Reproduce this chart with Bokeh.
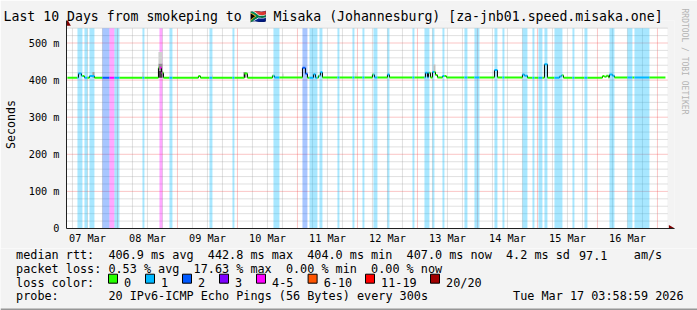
from datetime import datetime, timedelta
from math import pi
from bokeh.plotting import figure
from bokeh.models import (Range1d, FixedTicker, Title, DatetimeTickFormatter,
                          ColumnDataSource)
from bokeh.core.properties import value
from bokeh.embed import file_html
from bokeh.resources import INLINE

# ---------------- data ----------------
BASE = datetime(2026, 3, 7, 0, 0, 0)
GRAPH_START = datetime(2026, 3, 7, 3, 58, 59)
GRAPH_END = datetime(2026, 3, 17, 3, 58, 59)
Y_MAX = 540

# median rtt (step series): hours after 07 Mar 00:00, value in ms
median_hours = [3.98, 8.4, 9.6, 10.8, 12.8, 14.8, 40.4, 41.6, 42.4, 56.4, 57.2,
                74.8, 76.0, 86.0, 86.8, 98.0, 99.2, 100.0, 102.4, 103.2, 104.4,
                105.2, 106.0, 126.0, 126.8, 132.0, 132.8, 147.2, 148.0, 148.4,
                149.2, 150.0, 151.2, 152.0, 154.0, 155.6, 174.8, 176.0, 186.0,
                186.8, 188.0, 194.8, 196.0, 200.8, 201.6, 202.4, 218.0, 218.8,
                219.6, 220.4, 220.8, 222.0, 222.8, 243.2]
median_ms = [406, 418, 411, 406, 411, 406, 433, 420, 406, 411, 406,
             418, 406, 412, 407, 433, 417, 406, 416, 406, 412,
             421, 407, 415, 407, 415, 407, 420, 407, 420,
             407, 422, 414, 407, 411, 407, 427, 407, 415,
             412, 406, 443, 406, 410, 413, 406, 411, 409,
             412, 407, 415, 412, 407, 407]

# packet loss periods (hours after 07 Mar 00:00) and loss class index
loss_start = [8.0, 10.8, 12.8, 18.0, 20.8, 22.8, 34.0, 40.8, 44.8, 60.8, 70.0,
              86.4, 98.0, 100.8, 104.8, 112.0, 118.0, 122.0, 126.4, 132.0,
              142.0, 146.8, 150.0, 154.0, 162.8, 166.8, 174.8, 178.0, 186.0,
              190.0, 192.4, 194.8, 198.8, 206.0, 210.8, 220.8, 228.0, 230.8]
loss_end = [10.0, 12.0, 14.8, 20.8, 22.8, 24.8, 34.8, 42.0, 46.0, 62.0, 70.8,
            88.8, 100.0, 104.0, 106.0, 112.8, 118.8, 122.8, 128.0, 132.8,
            142.8, 148.8, 150.8, 154.8, 164.0, 168.8, 176.0, 178.8, 188.0,
            190.8, 194.0, 196.0, 202.0, 206.8, 212.0, 222.8, 230.0, 236.8]
loss_class = [1, 1, 1, 2, 4, 1, 1, 4, 1, 1, 1,
              1, 2, 1, 1, 1, 1, 1, 1, 1,
              1, 1, 1, 1, 1, 1, 1, 1, 1,
              1, 1, 1, 1, 1, 1, 1, 1, 1]

# smoke (ping spread) patches
smoke_start = [14.0, 34.0, 40.4, 40.4, 40.4, 61.8, 74.4, 90.0, 119.2, 150.4]
smoke_end = [14.8, 34.4, 42.0, 42.0, 42.0, 62.2, 75.6, 90.4, 119.6, 151.2]
smoke_low = [406, 406, 406, 425, 445, 406, 406, 406, 406, 422]
smoke_high = [422, 422, 425, 445, 476, 415, 422, 418, 420, 442]
smoke_shade = ["#a0a0a0", "#c8c8c8", "#404040", "#909090", "#d0d0d0",
               "#d8d8d8", "#909090", "#c0c0c0", "#d0d0d0", "#c0c0c0"]

loss_labels = ["0", "1", "2", "3", "4-5", "6-10", "11-19", "20/20"]
loss_colors = ["#26ff00", "#00b8ff", "#0059ff", "#7e00ff", "#ff00ff",
               "#ff5500", "#ff0000", "#a10000"]

y_ticks = [0, 100, 200, 300, 400, 500]
y_tick_labels = ["0", "100 m", "200 m", "300 m", "400 m", "500 m"]
day_label_noons = [datetime(2026, 3, d, 12, 0, 0) for d in range(7, 17)]

title_text = ("Last 10 Days from smokeping to \U0001F1FF\U0001F1E6 "
              "Misaka (Johannesburg) [za-jnb01.speed.misaka.one]")
rtt_stats = ["406.9 ms avg", "442.8 ms max", "404.0 ms min", "407.0 ms now",
             "4.2 ms sd", "97.1", "am/s"]
loss_stats = ["0.53 % avg", "17.63 % max", "0.00 % min", "0.00 % now"]
probe_text = "20 IPv6-ICMP Echo Pings (56 Bytes) every 300s"
stamp_text = "Tue Mar 17 03:58:59 2026"
side_text = "RRDTOOL / TOBI OETIKER"

# ---------------- layout ----------------
W = 697
H_MAIN, H_LEG = 248, 62
FL, FR, FT, FB = 66, 674, 20, 228
PX_PER_MS = 0.371
SEC_PER_PX = 1440.0
MONO = "DejaVu Sans Mono"
BG = "#f3f3f3"

def hdt(h):
    return BASE + timedelta(hours=h)

x_start = GRAPH_START - timedelta(seconds=1296)
x_end = x_start + timedelta(seconds=(FR - FL) * SEC_PER_PX)
y_top = (FB - FT) / PX_PER_MS

p = figure(width=W, height=H_MAIN, x_axis_type="datetime", output_backend="svg",
           toolbar_location=None,
           x_range=Range1d(x_start, x_end), y_range=Range1d(0, y_top),
           min_border_left=FL, min_border_right=W - FR,
           min_border_top=FT, min_border_bottom=H_MAIN - FB)
p.background_fill_color = BG
p.border_fill_color = BG
p.outline_line_color = None
p.xgrid.visible = False
p.ygrid.visible = False

# title
p.title.text = title_text
p.title.align = "left"
p.title.offset = 3 - FL
p.title.standoff = -7
p.title.vertical_align = "bottom"
p.title.text_font = MONO
p.title.text_font_size = "13.2px"
p.title.text_font_style = "normal"
p.title.text_color = "#000000"

# side text
p.add_layout(Title(text=side_text, align="left", offset=-12, standoff=11,
                   vertical_align="bottom", text_font=MONO, text_font_size="8px",
                   text_font_style="normal", text_color="#b4b4b4"), "right")

# white canvas
p.quad(left=[x_start], right=[GRAPH_END], bottom=[0], top=[Y_MAX],
       fill_color="white", line_color=None, level="image")

# grid lines (from axis ranges)
minor_v, major_v = [], []
h = 6.0
while hdt(h) < GRAPH_END:
    if hdt(h) > GRAPH_START:
        (major_v if h % 24 == 0 else minor_v).append(hdt(h))
    h += 6.0
minor_h = [v for v in range(20, Y_MAX + 1, 20) if v % 100 != 0]
major_h = [v for v in range(100, Y_MAX + 1, 100)]

for xs_, col in ((minor_v, "#9a9a9a"), (major_v, "#f04040")):
    p.segment(x0=xs_, x1=xs_, y0=[0] * len(xs_), y1=[Y_MAX] * len(xs_),
              line_color=col, line_alpha=0.6, line_dash="1 1", line_width=1,
              level="underlay")
for ys_, col in ((minor_h, "#9a9a9a"), (major_h, "#f04040")):
    p.segment(x0=[x_start] * len(ys_), x1=[GRAPH_END] * len(ys_), y0=ys_, y1=ys_,
              line_color=col, line_alpha=0.6, line_dash="1 1", line_width=1,
              level="underlay")

# loss bands
band_src = ColumnDataSource(dict(
    left=[hdt(v) for v in loss_start], right=[hdt(v) for v in loss_end],
    color=[loss_colors[c] for c in loss_class]))
p.quad(left="left", right="right", bottom=0, top=Y_MAX, fill_color="color",
       fill_alpha=0.34, line_color=None, source=band_src)

# smoke
smoke_src = ColumnDataSource(dict(
    left=[hdt(v) for v in smoke_start], right=[hdt(v) for v in smoke_end],
    bottom=smoke_low, top=smoke_high, color=smoke_shade))
p.quad(left="left", right="right", bottom="bottom", top="top",
       fill_color="color", line_color=None, source=smoke_src)

# median line, coloured by loss class
edges = sorted(set(median_hours) | {v for v in loss_start + loss_end
                                    if median_hours[0] < v < median_hours[-1]})
def med_at(t):
    val = median_ms[0]
    for hh, vv in zip(median_hours, median_ms):
        if hh <= t:
            val = vv
    return val
def cls_at(t):
    for a, b, c in zip(loss_start, loss_end, loss_class):
        if a <= t < b:
            return c
    return 0
sx0, sx1, sy, sc = [], [], [], []
for a, b in zip(edges[:-1], edges[1:]):
    m = (a + b) / 2
    sx0.append(hdt(a)); sx1.append(hdt(b))
    sy.append(med_at(m)); sc.append(loss_colors[cls_at(m)])

vx = [hdt(hh) for hh in median_hours[1:-1]]
p.segment(x0=vx, x1=vx, y0=median_ms[:-2], y1=median_ms[1:-1],
          line_color="#000000", line_width=1)
p.segment(x0=sx0, x1=sx1, y0=sy, y1=sy, line_color=sc, line_width=2)

# axis arrows
p.scatter(x=[GRAPH_START], y=[Y_MAX + 12], marker="triangle",
          size=7, fill_color="#800000", line_color=None)
p.scatter(x=[GRAPH_END + timedelta(seconds=3.5 * SEC_PER_PX)], y=[0], marker="triangle",
          angle=-pi / 2, size=7, fill_color="#800000", line_color=None)

# axes
for ax in (p.xaxis[0], p.yaxis[0]):
    ax.axis_line_color = "#202020"
    ax.major_tick_line_color = None
    ax.minor_tick_line_color = None
    ax.major_tick_out = 0
    ax.major_tick_in = 0
    ax.minor_tick_out = 0
    ax.minor_tick_in = 0
    ax.major_label_text_font = MONO
    ax.major_label_text_font_size = "10.2px"
    ax.major_label_text_color = "#000000"
p.xaxis.ticker = FixedTicker(ticks=[(d - datetime(1970, 1, 1)).total_seconds() * 1000
                                    for d in day_label_noons])
p.xaxis.formatter = DatetimeTickFormatter(days="%d %b", hours="%d %b", months="%d %b",
                                          hourmin="%d %b", minutes="%d %b")
p.xaxis.major_label_standoff = 4
p.yaxis.ticker = FixedTicker(ticks=y_ticks)
p.yaxis.major_label_overrides = {t: l for t, l in zip(y_ticks, y_tick_labels)}
p.yaxis.major_label_standoff = 7
p.yaxis.axis_label = "Seconds"
p.yaxis.axis_label_text_font = MONO
p.yaxis.axis_label_text_font_size = "11.6px"
p.yaxis.axis_label_text_font_style = "normal"
p.yaxis.axis_label_text_color = "#000000"
p.yaxis.axis_label_standoff = 8

# ---------------- legend block (pixel coordinates, separate root) ----------------
q = figure(width=W, height=H_LEG, output_backend="svg", toolbar_location=None,
           x_range=Range1d(0, W), y_range=Range1d(H_MAIN + H_LEG, H_MAIN),
           min_border=0, x_axis_location=None, y_axis_location=None)
q.background_fill_color = BG
q.border_fill_color = BG
q.outline_line_color = None
q.xgrid.visible = False
q.ygrid.visible = False

FS = "11.8px"
COL0, COL1 = 15.6, 107.9
row_y = [254.8, 268.5, 282.2, 295.9]
tx, ty, tt = [], [], []
def add(x, y, t):
    tx.append(x); ty.append(y); tt.append(t)

add(COL0, row_y[0], "median rtt:")
for x, t in zip([COL1, 207.3, 306.7, 406.1, 505.5, 578.5, 633.3], rtt_stats):
    add(x, row_y[0], t)
add(COL0, row_y[1], "packet loss:")
for x, t in zip([COL1, 193.1, 285.4, 370.6], loss_stats):
    add(x, row_y[1], t)
add(COL0, row_y[2], "loss color:")
sq_x = [108, 145, 182, 219, 256, 307.6, 365, 430]
for x, t in zip(sq_x, loss_labels):
    add(x + 15.6, row_y[2], t)
add(COL0, row_y[3], "probe:")
add(COL1, row_y[3], probe_text)
add(512.6, row_y[3], stamp_text)

q.text(x=tx, y=ty, text=tt, text_font=value(MONO), text_font_size=value(FS),
       text_color="#000000", text_baseline="alphabetic", text_align="left")
q.quad(left=sq_x, right=[x + 9 for x in sq_x], top=[row_y[2] - 8.5] * len(sq_x),
       bottom=[row_y[2] + 0.5] * len(sq_x), fill_color=loss_colors,
       line_color="#000000", line_width=1)
# lower shade of the image border
q.quad(left=[0], right=[W], top=[H_MAIN + H_LEG - 2], bottom=[H_MAIN + H_LEG],
       fill_color="#969696", line_color=None)

open("out.html", "w").write(file_html([p, q], INLINE))
